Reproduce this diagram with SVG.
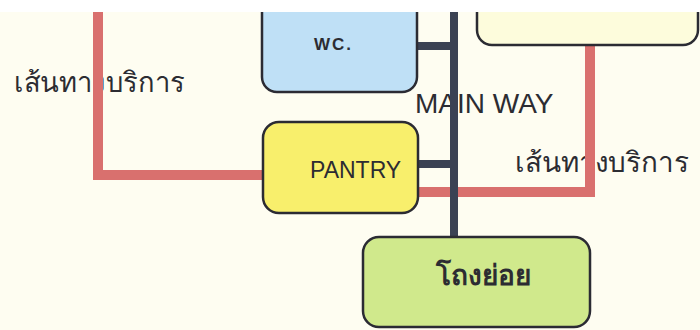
<svg xmlns="http://www.w3.org/2000/svg" width="700" height="330" viewBox="0 0 700 330">
<style>
.box{stroke:#2b2b33;stroke-width:2.5}
.red{stroke:#d9706e;stroke-width:10;fill:none}
.dark{stroke:#3b4254;stroke-width:8;fill:none}
.lbl{font-family:"Liberation Sans","DejaVu Sans","Noto Sans",sans-serif;fill:#2c2c32}
</style>
<rect x="0" y="0" width="700" height="330" fill="#ffffff"/>
<rect x="0" y="12" width="700" height="318" fill="#fefdf1"/>
<text class="lbl" x="14" y="92" font-size="28" textLength="171" lengthAdjust="spacingAndGlyphs">เส้นทางบริการ</text>
<text class="lbl" x="515" y="172" font-size="28" textLength="174" lengthAdjust="spacingAndGlyphs">เส้นทางบริการ</text>
<text class="lbl" x="415" y="113" font-size="28" fill="#3a3a42">MAIN WAY</text>
<g id="connectors">
<polyline class="red" points="98,12 98,175 263,175"/>
<polyline class="red" points="418,192 590,192 590,45"/>
<line class="dark" x1="454" y1="12" x2="454" y2="237"/>
<line class="dark" x1="417" y1="46" x2="454" y2="46"/>
<line class="dark" x1="417" y1="164" x2="454" y2="164"/>
</g>
<g id="wc">
<rect class="box" x="262" y="-10" width="155" height="102" rx="15" fill="#bfe0f6"/>
<text class="lbl" x="314" y="50" font-size="17" font-weight="bold" letter-spacing="2" fill="#2e3a55">WC.</text>
</g>
<g id="pantry">
<rect class="box" x="263" y="122" width="155" height="91" rx="16" fill="#f8ef6c"/>
<text class="lbl" x="310" y="178" font-size="23">PANTRY</text>
</g>
<g id="top-right">
<rect class="box" x="477" y="-20" width="221" height="65" rx="15" fill="#fdfcdc"/>
</g>
<g id="hall">
<rect class="box" x="363" y="237" width="227" height="90" rx="16" fill="#d0e98c"/>
<text class="lbl" x="483" y="285" font-size="28" font-weight="bold" text-anchor="middle">โถงย่อย</text>
</g>
<rect x="0" y="0" width="700" height="12" fill="#ffffff"/>
</svg>
